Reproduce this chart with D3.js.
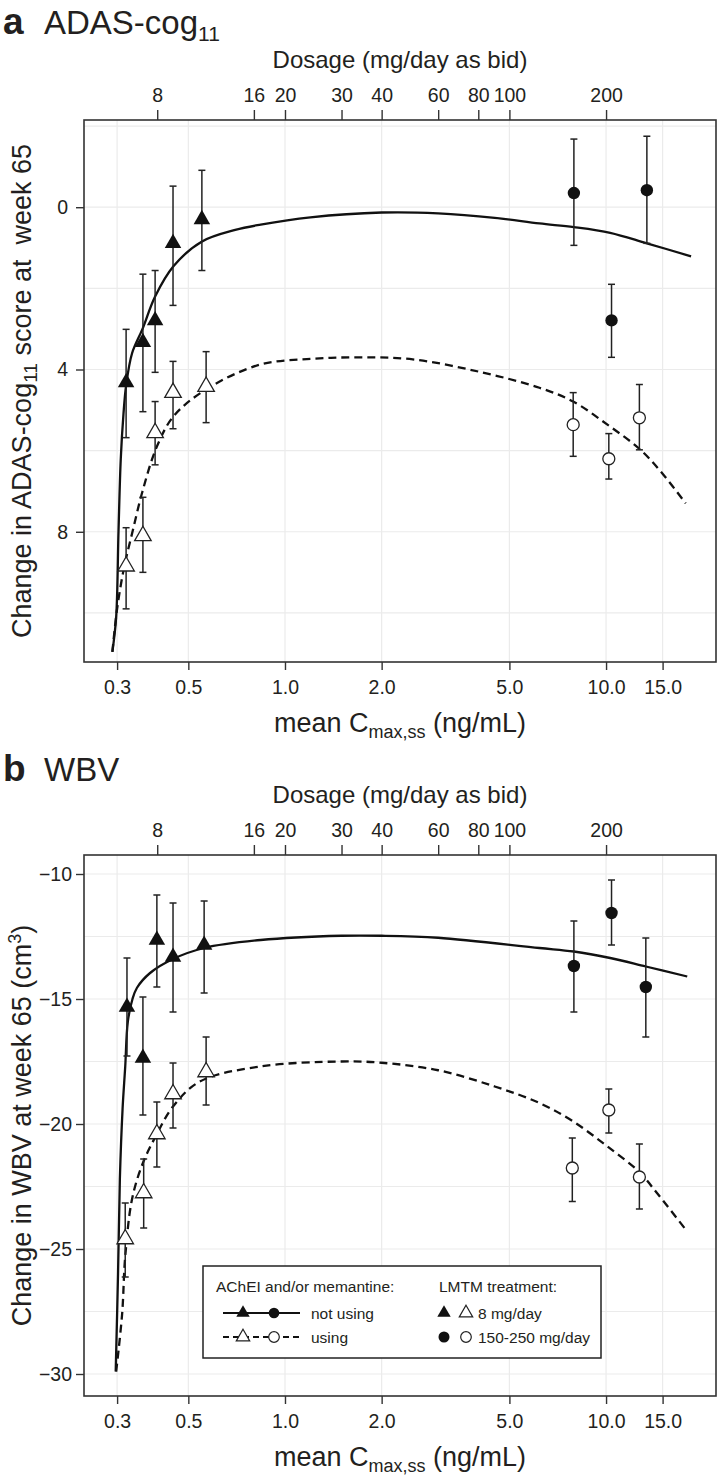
<!DOCTYPE html>
<html>
<head>
<meta charset="utf-8">
<script src="https://cdn.jsdelivr.net/npm/d3@7"></script>
<style>
body { margin: 0; background: #fff; }
svg { display: block; font-family: "Liberation Sans", Arial, sans-serif; }
</style>
</head>
<body>
<svg width="718" height="1478"></svg>
<script>
const svg = d3.select("svg");

// ---- values ----
const concTicks = [0.3, 0.5, 1, 2, 5, 10, 15];
const doseTicks = [8, 16, 20, 30, 40, 60, 80, 100, 200];
const adasTicks = [0, 4, 8];
const adasGrid = [-2, 0, 2, 4, 6, 8, 10];
const wbvTicks = [-10, -15, -20, -25, -30];
const wbvGrid = [-10, -12.5, -15, -17.5, -20, -22.5, -25, -27.5, -30];

// points: [conc, mean, bar end 1, bar end 2]
const adasNotUsing8 = [[0.320, 4.32, 3.01, 5.68], [0.361, 3.33, 1.65, 5.04], [0.394, 2.79, 1.56, 4.07], [0.448, 0.89, -0.52, 2.42], [0.551, 0.30, -0.91, 1.56]];
const adasUsing8 = [[0.320, 8.85, 7.9, 9.9], [0.361, 8.1, 7.15, 9.0], [0.394, 5.56, 4.79, 6.35], [0.448, 4.57, 3.80, 5.46], [0.568, 4.42, 3.56, 5.31]];
const adasNotUsingHi = [[7.94, -0.35, -1.68, 0.94], [10.4, 2.79, 1.90, 3.70], [13.4, -0.42, -1.75, 0.89]];
const adasUsingHi = [[7.9, 5.36, 4.57, 6.14], [10.2, 6.20, 5.58, 6.7], [12.7, 5.19, 4.37, 5.98]];
const adasNotUsingCurve = [[0.29, 10.96], [0.298, 10.1], [0.303, 8.0], [0.308, 6.2], [0.314, 5.1], [0.32, 4.4], [0.334, 3.6], [0.36, 3.0], [0.394, 2.2], [0.45, 1.45], [0.55, 0.85], [0.7, 0.56], [0.84, 0.43], [1.2, 0.25], [2.0, 0.13], [3.0, 0.15], [4.5, 0.26], [6.2, 0.4], [7.94, 0.49], [10.3, 0.63], [13.4, 0.89], [18.4, 1.21]];
const adasUsingCurve = [[0.29, 10.96], [0.3, 9.9], [0.315, 8.9], [0.335, 8.0], [0.36, 7.0], [0.399, 5.9], [0.45, 5.15], [0.568, 4.49], [0.836, 3.88], [1.2, 3.74], [1.7, 3.7], [2.5, 3.75], [4.0, 4.05], [6.2, 4.45], [7.9, 4.79], [10.1, 5.36], [12.8, 5.98], [15.0, 6.57], [17.7, 7.3]];

const wbvNotUsing8 = [[0.322, -15.32, -13.36, -17.28], [0.361, -17.36, -14.92, -19.64], [0.399, -12.64, -10.84, -14.52], [0.448, -13.32, -11.16, -15.52], [0.56, -12.84, -11.08, -14.76]];
const wbvUsing8 = [[0.318, -24.6, -23.16, -26.12], [0.363, -22.76, -21.4, -24.16], [0.399, -20.4, -19.12, -21.72], [0.448, -18.8, -17.56, -20.16], [0.568, -17.92, -16.52, -19.24]];
const wbvNotUsingHi = [[7.94, -13.68, -11.88, -15.52], [10.4, -11.56, -10.24, -12.84], [13.3, -14.52, -12.56, -16.52]];
const wbvUsingHi = [[7.85, -21.76, -20.56, -23.1], [10.2, -19.44, -18.6, -20.36], [12.7, -22.12, -20.8, -23.4]];
const wbvNotUsingCurve = [[0.297, -29.9], [0.302, -26.0], [0.306, -22.2], [0.312, -19.4], [0.318, -17.7], [0.324, -15.9], [0.335, -15.0], [0.346, -14.55], [0.38, -13.96], [0.448, -13.4], [0.56, -12.96], [0.84, -12.64], [1.5, -12.47], [2.0, -12.47], [3.0, -12.55], [6.2, -12.96], [7.94, -13.1], [10.3, -13.36], [13.3, -13.7], [17.9, -14.1]];
const wbvUsingCurve = [[0.298, -29.9], [0.311, -27.6], [0.318, -25.3], [0.334, -23.0], [0.36, -21.6], [0.399, -20.4], [0.448, -19.3], [0.543, -18.3], [0.836, -17.7], [1.5, -17.5], [2.0, -17.55], [3.0, -17.85], [4.5, -18.5], [6.2, -19.16], [7.9, -19.9], [10.1, -20.9], [12.8, -21.96], [14.0, -22.56], [17.9, -24.3]];

const legendUse = ["not using", "using"];
const legendDose = ["8 mg/day", "150-250 mg/day"];

// ---- layout ----
const ink = "#231f20";
const left = 84, right = 716;
const xDomain = [0.2366, 22.0];
const doseFactor = 20; // 20 mg/day as bid ~ 1 ng/mL

const xScale = d3.scaleLog().domain(xDomain).range([left, right]);
const doseScale = d3.scaleLog().domain(xDomain.map(d => d * doseFactor)).range([left, right]);

const triangle = d3.symbol().type(d3.symbolTriangle).size(118);
const triangleSmall = d3.symbol().type(d3.symbolTriangle).size(78);

const panels = [
    {
        letter: "a", title: "ADAS-cog", titleSub: "11", titleBase: 34,
        top: 120, bottom: 662, yDomain: [-2.15, 11.21],
        ticks: adasTicks, grid: adasGrid, tickPad: 8,
        yLabel: [["Change in ADAS-cog", 0, 27], ["11", 6, 19], [" score at  week 65", -6, 27]],
        filledTri: adasNotUsing8, openTri: adasUsing8, filledCirc: adasNotUsingHi, openCirc: adasUsingHi,
        solid: adasNotUsingCurve, dashed: adasUsingCurve, legend: false
    },
    {
        letter: "b", title: "WBV", titleSub: "", titleBase: 781,
        top: 855, bottom: 1396, yDomain: [-9.24, -30.88],
        ticks: wbvTicks, grid: wbvGrid, tickPad: 4,
        yLabel: [["Change in WBV at week 65 (cm", 0, 27], ["3", -10, 18], [")", 10, 27]],
        filledTri: wbvNotUsing8, openTri: wbvUsing8, filledCirc: wbvNotUsingHi, openCirc: wbvUsingHi,
        solid: wbvNotUsingCurve, dashed: wbvUsingCurve, legend: true
    }
];

const drawPanel = p => {
    const yScale = d3.scaleLinear().domain(p.yDomain).range([p.top, p.bottom]);
    const g = svg.append("g");

    // panel title
    const t = g.append("text").attr("x", 3).attr("y", p.titleBase).attr("fill", ink);
    t.append("tspan").attr("font-weight", "bold").attr("font-size", 37).text(p.letter);
    t.append("tspan").attr("x", 44).attr("font-size", 33).text(p.title);
    if (p.titleSub) t.append("tspan").attr("font-size", 21).attr("dy", 7).text(p.titleSub);

    // grid
    g.append("g").selectAll("line").data(concTicks).enter().append("line")
        .attr("x1", d => xScale(d)).attr("x2", d => xScale(d))
        .attr("y1", p.top).attr("y2", p.bottom)
        .attr("stroke", "#ebebeb").attr("stroke-width", 1.2);
    g.append("g").selectAll("line").data(p.grid).enter().append("line")
        .attr("x1", left).attr("x2", right)
        .attr("y1", d => yScale(d)).attr("y2", d => yScale(d))
        .attr("stroke", "#ebebeb").attr("stroke-width", 1.2);

    // fitted curves
    const line = d3.line().x(d => xScale(d[0])).y(d => yScale(d[1])).curve(d3.curveCatmullRom.alpha(0.5));
    g.append("path").datum(p.solid).attr("d", line)
        .attr("fill", "none").attr("stroke", "#111").attr("stroke-width", 2.3);
    g.append("path").datum(p.dashed).attr("d", line)
        .attr("fill", "none").attr("stroke", "#111").attr("stroke-width", 2.3)
        .attr("stroke-dasharray", "8,5");

    // error bars
    const allPts = [].concat(p.filledTri, p.openTri, p.filledCirc, p.openCirc);
    const bars = g.append("g").attr("stroke", "#222").attr("stroke-width", 1.5);
    bars.selectAll(".v").data(allPts).enter().append("line")
        .attr("x1", d => xScale(d[0])).attr("x2", d => xScale(d[0]))
        .attr("y1", d => yScale(d[2])).attr("y2", d => yScale(d[3]));
    [2, 3].forEach(k => {
        bars.selectAll(".c" + k).data(allPts).enter().append("line")
            .attr("x1", d => xScale(d[0]) - 3.5).attr("x2", d => xScale(d[0]) + 3.5)
            .attr("y1", d => yScale(d[k])).attr("y2", d => yScale(d[k]));
    });

    // markers
    g.selectAll(".ft").data(p.filledTri).enter().append("path")
        .attr("d", triangle).attr("transform", d => `translate(${xScale(d[0])},${yScale(d[1])})`)
        .attr("fill", "#111");
    g.selectAll(".ot").data(p.openTri).enter().append("path")
        .attr("d", triangle).attr("transform", d => `translate(${xScale(d[0])},${yScale(d[1])})`)
        .attr("fill", "#fff").attr("stroke", "#222").attr("stroke-width", 1.3);
    g.selectAll(".fc").data(p.filledCirc).enter().append("circle")
        .attr("cx", d => xScale(d[0])).attr("cy", d => yScale(d[1])).attr("r", 6.2)
        .attr("fill", "#111");
    g.selectAll(".oc").data(p.openCirc).enter().append("circle")
        .attr("cx", d => xScale(d[0])).attr("cy", d => yScale(d[1])).attr("r", 6)
        .attr("fill", "#fff").attr("stroke", "#222").attr("stroke-width", 1.3);

    // frame
    g.append("rect").attr("x", left).attr("y", p.top)
        .attr("width", right - left).attr("height", p.bottom - p.top)
        .attr("fill", "none").attr("stroke", "#333").attr("stroke-width", 1.6);

    // axes
    const styleAxis = a => {
        a.attr("font-family", null).attr("font-size", 19.5);
        a.select(".domain").remove();
        a.selectAll("line").attr("stroke", "#333").attr("stroke-width", 1.4);
        a.selectAll("text").attr("fill", ink);
    };
    g.append("g").attr("transform", `translate(0,${p.bottom})`)
        .call(d3.axisBottom(xScale).tickValues(concTicks).tickFormat(d3.format(".1f")).tickSize(8).tickPadding(10))
        .call(styleAxis);
    g.append("g").attr("transform", `translate(0,${p.top})`)
        .call(d3.axisTop(doseScale).tickValues(doseTicks).tickFormat(d3.format("d")).tickSize(10).tickPadding(8))
        .call(styleAxis);
    g.append("g").attr("transform", `translate(${left},0)`)
        .call(d3.axisLeft(yScale).tickValues(p.ticks).tickSize(8).tickPadding(p.tickPad))
        .call(styleAxis);

    // axis titles
    g.append("text").attr("x", (left + right) / 2).attr("y", p.top - 52)
        .attr("text-anchor", "middle").attr("font-size", 24).attr("fill", ink)
        .text("Dosage (mg/day as bid)");

    const xl = g.append("text").attr("x", (left + right) / 2).attr("y", p.bottom + 70)
        .attr("text-anchor", "middle").attr("font-size", 27).attr("fill", ink);
    xl.append("tspan").text("mean C");
    xl.append("tspan").attr("font-size", 18).attr("dy", 6).text("max,ss");
    xl.append("tspan").attr("dy", -6).text(" (ng/mL)");

    const yl = g.append("text")
        .attr("transform", `translate(31,${(p.top + p.bottom) / 2}) rotate(-90)`)
        .attr("text-anchor", "middle").attr("fill", ink).style("white-space", "pre");
    p.yLabel.forEach(s => {
        yl.append("tspan").attr("dy", s[1]).attr("font-size", s[2]).text(s[0]);
    });

    if (p.legend) drawLegend(g);
};

const drawLegend = g => {
    const bx = 203, by = 1266, bw = 398, bh = 92;
    const lg = g.append("g");
    lg.append("rect").attr("x", bx).attr("y", by).attr("width", bw).attr("height", bh)
        .attr("fill", "#fff").attr("stroke", "#222").attr("stroke-width", 1.5);
    lg.append("text").attr("x", 216).attr("y", 1292).attr("font-size", 15.5).attr("fill", ink)
        .text("AChEI and/or memantine:");
    lg.append("text").attr("x", 439).attr("y", 1292).attr("font-size", 15.5).attr("fill", ink)
        .text("LMTM treatment:");

    const rowY = [1313, 1337];
    legendUse.forEach((label, i) => {
        const y = rowY[i];
        const open = i === 1;
        lg.append("line").attr("x1", 223).attr("x2", 300).attr("y1", y).attr("y2", y)
            .attr("stroke", "#111").attr("stroke-width", 2.1)
            .attr("stroke-dasharray", open ? "6,4" : null);
        lg.append("path").attr("d", triangleSmall).attr("transform", `translate(243,${y})`)
            .attr("fill", open ? "#fff" : "#111").attr("stroke", open ? "#222" : "none").attr("stroke-width", 1.2);
        lg.append("circle").attr("cx", 274).attr("cy", y).attr("r", 5.3)
            .attr("fill", open ? "#fff" : "#111").attr("stroke", open ? "#222" : "none").attr("stroke-width", 1.2);
        lg.append("text").attr("x", 311).attr("y", y + 5.5).attr("font-size", 15.5).attr("fill", ink).text(label);
    });
    legendDose.forEach((label, i) => {
        const y = rowY[i];
        if (i === 0) {
            lg.append("path").attr("d", triangleSmall).attr("transform", `translate(444,${y})`).attr("fill", "#111");
            lg.append("path").attr("d", triangleSmall).attr("transform", `translate(466,${y})`)
                .attr("fill", "#fff").attr("stroke", "#222").attr("stroke-width", 1.2);
        } else {
            lg.append("circle").attr("cx", 444).attr("cy", y).attr("r", 5.5).attr("fill", "#111");
            lg.append("circle").attr("cx", 466).attr("cy", y).attr("r", 5.3)
                .attr("fill", "#fff").attr("stroke", "#222").attr("stroke-width", 1.2);
        }
        lg.append("text").attr("x", 478).attr("y", y + 5.5).attr("font-size", 15.5).attr("fill", ink).text(label);
    });
};

panels.forEach(drawPanel);
</script>
</body>
</html>
